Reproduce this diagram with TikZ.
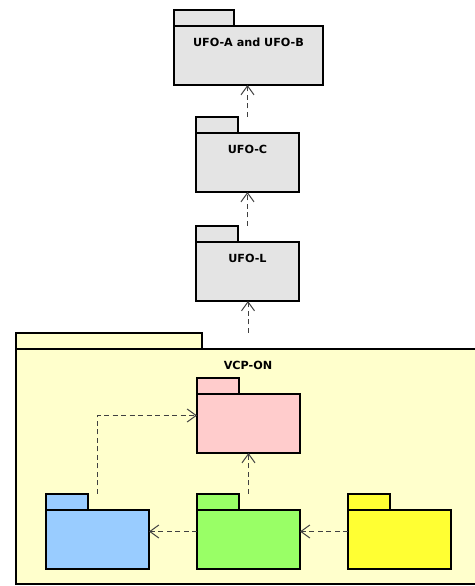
\documentclass[tikz,border=0pt]{standalone}
\usepackage{fontspec}
\setmainfont{DejaVu Sans}
\usetikzlibrary{arrows.meta,calc}

\definecolor{pkggray}{HTML}{E4E4E4}
\definecolor{outerfill}{HTML}{FFFFCC}
\definecolor{pinkfill}{HTML}{FFCCCC}
\definecolor{bluefill}{HTML}{99CCFF}
\definecolor{greenfill}{HTML}{99FF66}
\definecolor{yellowfill}{HTML}{FFFF33}
\definecolor{depgray}{HTML}{404040}

\begin{document}
\begin{tikzpicture}[x=1pt,y=1pt,
  pkg/.style={draw,line width=2pt,inner sep=0pt,outer sep=0pt,anchor=south west,
    minimum width=103pt,minimum height=59pt},
  pkgtab/.style={draw,line width=2pt,inner sep=0pt,outer sep=0pt,anchor=south west,
    minimum width=42pt,minimum height=16pt},
  pkgname/.style={anchor=north,inner sep=0pt,yshift=-11.5pt,
    font=\fontsize{11.2}{13}\selectfont\bfseries},
  dep/.style={draw=depgray,line width=1pt,dash pattern=on 5pt off 3.5pt,
    -{Straight Barb[length=9pt,width=13pt]}}]
\useasboundingbox (0,0) rectangle (474,586);

\node[pkg,fill=pkggray,minimum width=149pt,label={[pkgname]north:UFO-A and UFO-B}] (ufoab) at (174,501) {};
\node[pkgtab,fill=pkggray,minimum width=60pt] (ufoab-tab) at (ufoab.north west) {};

\node[pkg,fill=pkggray,label={[pkgname]north:UFO-C}] (ufoc) at (196,394) {};
\node[pkgtab,fill=pkggray] (ufoc-tab) at (ufoc.north west) {};

\node[pkg,fill=pkggray,label={[pkgname]north:UFO-L}] (ufol) at (196,285) {};
\node[pkgtab,fill=pkggray] (ufol-tab) at (ufol.north west) {};

\node[pkg,fill=outerfill,minimum width=464pt,minimum height=235pt,label={[pkgname]north:VCP-ON}] (vcpon) at (16,2) {};
\node[pkgtab,fill=outerfill,minimum width=186pt] (vcpon-tab) at (vcpon.north west) {};

\foreach \n/\x/\y/\c in {pink/197/133/pinkfill,blue/46/17/bluefill,green/197/17/greenfill,yellow/348/17/yellowfill}
{
\node[pkg,fill=\c] (\n) at (\x,\y) {};
\node[pkgtab,fill=\c] (\n-tab) at (\n.north west) {};
}

\draw[dep] (ufoc.north |- ufoc-tab.north) -- (ufoc.north |- ufoab.south);
\draw[dep] (ufol.north |- ufol-tab.north) -- (ufoc.south);
\draw[dep] (vcpon.north |- vcpon-tab.north) -- (vcpon.north |- ufol.south);

\draw[dep] (blue.north |- blue-tab.north) |- ($(pink.west)+(0,8)$);
\draw[dep] (green.north |- green-tab.north) -- (pink.south);
\draw[dep] ($(green.west)+(0,8)$) -- ($(blue.east)+(0,8)$);
\draw[dep] ($(yellow.west)+(0,8)$) -- ($(green.east)+(0,8)$);
\end{tikzpicture}
\end{document}
